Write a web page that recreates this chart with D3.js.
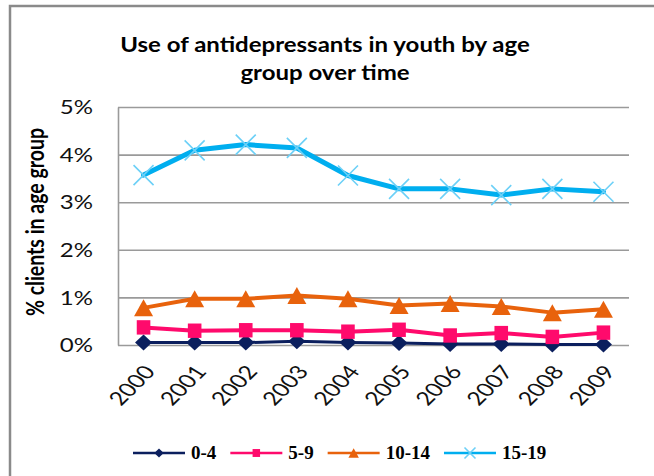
<!DOCTYPE html>
<html>
<head>
<meta charset="utf-8">
<script src="https://cdn.jsdelivr.net/npm/d3@7"></script>
<style>
  html, body { margin: 0; padding: 0; background: #fff; }
  svg { display: block; }
</style>
</head>
<body>
<svg id="chart" width="654" height="476"></svg>
<script>
// ---- data -------------------------------------------------------------
const years = ["2000", "2001", "2002", "2003", "2004", "2005", "2006", "2007", "2008", "2009"];
const ageGroups = ["0-4", "5-9", "10-14", "15-19"];
// percent of clients in each age group using antidepressants
const use0to4   = [0.05, 0.05, 0.05, 0.08, 0.05, 0.04, 0.02, 0.02, 0.01, 0.01];
const use5to9   = [0.37, 0.30, 0.31, 0.31, 0.28, 0.32, 0.20, 0.25, 0.17, 0.26];
const use10to14 = [0.78, 0.97, 0.97, 1.04, 0.97, 0.83, 0.87, 0.81, 0.68, 0.75];
const use15to19 = [3.57, 4.09, 4.21, 4.14, 3.56, 3.28, 3.28, 3.15, 3.28, 3.22];
const yTicks = [0, 1, 2, 3, 4, 5];
const titleLines = ["Use of antidepressants in youth by age", "group over time"];
const yAxisTitle = "% clients in age group";

// ---- layout -----------------------------------------------------------
const plot = { left: 118, right: 629, top: 107, bottom: 345 };
const SX = 1.3;                       // horizontal text stretch
const sansFont = "Lato, 'Open Sans', sans-serif";
const serifFont = "'Liberation Serif', 'DejaVu Serif', serif";

const series = [
  { name: ageGroups[0], values: use0to4,   color: "#0b1f5e", width: 3, marker: "diamond" },
  { name: ageGroups[1], values: use5to9,   color: "#ff0a6c", width: 4, marker: "square" },
  { name: ageGroups[2], values: use10to14, color: "#e8620c", width: 4, marker: "triangle" },
  { name: ageGroups[3], values: use15to19, color: "#00aeef", width: 5, marker: "cross", markerColor: "#6cd0f7" }
];

const svg = d3.select("#chart");

// outer chart frame
svg.append("rect")
  .attr("x", 10).attr("y", 6).attr("width", 700).attr("height", 500)
  .attr("fill", "#fff").attr("stroke", "#8a8a8a").attr("stroke-width", 2.5);

const x = d3.scaleBand().domain(years).range([plot.left, plot.right]);
const y = d3.scaleLinear().domain([0, 5]).range([plot.bottom, plot.top]);
const cx = d => x(d) + x.bandwidth() / 2;

// ---- title ------------------------------------------------------------
const titleG = svg.append("g");
titleLines.forEach((line, i) => {
  titleG.append("text")
    .attr("transform", `translate(325,${52 + i * 28}) scale(1.2,1)`)
    .attr("text-anchor", "middle")
    .attr("font-family", sansFont)
    .attr("font-weight", "bold")
    .attr("font-size", 20)
    .attr("fill", "#000")
    .text(line);
});

// ---- y axis with gridlines ----------------------------------------------
const yAxis = svg.append("g")
  .attr("transform", `translate(${plot.left},0)`)
  .call(d3.axisLeft(y)
    .tickValues(yTicks)
    .tickFormat(d => d + "%")
    .tickSize(-(plot.right - plot.left))
    .tickSizeOuter(0));
yAxis.select(".domain").attr("stroke", "#9a9a9a").attr("stroke-width", 1.6);
yAxis.selectAll(".tick line").attr("stroke", "#9a9a9a").attr("stroke-width", 1.6);
yAxis.selectAll(".tick text")
  .attr("x", -25 / SX)
  .attr("dy", "0.36em")
  .attr("transform", `scale(${SX},1)`)
  .attr("font-family", sansFont)
  .attr("font-size", 18.5)
  .attr("fill", "#111");

// y axis title
svg.append("text")
  .attr("transform", `translate(35,222) scale(${SX},1) rotate(-90)`)
  .attr("text-anchor", "middle")
  .attr("dy", "0.35em")
  .attr("font-family", sansFont)
  .attr("font-weight", "bold")
  .attr("font-size", 19.5)
  .attr("fill", "#000")
  .text(yAxisTitle);

// ---- x axis -------------------------------------------------------------
const xAxis = svg.append("g")
  .attr("transform", `translate(0,${plot.bottom})`)
  .call(d3.axisBottom(x).tickSize(0).tickSizeOuter(0));
xAxis.select(".domain").remove();
xAxis.selectAll(".tick text")
  .attr("x", 0).attr("y", 0).attr("dy", "0.35em")
  .attr("text-anchor", "end")
  .attr("transform", `translate(6,23) scale(${SX},1) rotate(-52)`)
  .attr("font-family", sansFont)
  .attr("font-size", 19)
  .attr("fill", "#111");

// ---- markers ----------------------------------------------------------
function markerPath(type, s) {
  // s = scale factor, 1 for plot markers
  const p = d3.path();
  if (type === "diamond") {
    const hw = 8.5 * s, hh = 8 * s;
    p.moveTo(0, -hh); p.lineTo(hw, 0); p.lineTo(0, hh); p.lineTo(-hw, 0); p.closePath();
  } else if (type === "square") {
    const hw = 6.8 * s, hh = 7.2 * s;
    p.rect(-hw, -hh, 2 * hw, 2 * hh);
  } else if (type === "triangle") {
    const hw = 9.5 * s, hh = 8.5 * s;
    p.moveTo(0, -hh); p.lineTo(hw, hh); p.lineTo(-hw, hh); p.closePath();
  } else if (type === "cross") {
    const hw = 10 * s, hh = 10 * s;
    p.moveTo(-hw, -hh); p.lineTo(hw, hh);
    p.moveTo(hw, -hh); p.lineTo(-hw, hh);
  }
  return p.toString();
}

function drawMarker(g, s, type, color) {
  if (type === "cross") {
    g.append("path").attr("d", markerPath(type, s))
      .attr("fill", "none").attr("stroke", color).attr("stroke-width", 1.6);
  } else {
    g.append("path").attr("d", markerPath(type, s)).attr("fill", color);
  }
}

// ---- series lines -------------------------------------------------------
const line = d3.line()
  .x((d, i) => cx(years[i]))
  .y(d => y(d));

const seriesG = svg.append("g");
series.forEach(s => {
  const g = seriesG.append("g");
  g.append("path")
    .datum(s.values)
    .attr("d", line)
    .attr("fill", "none")
    .attr("stroke", s.color)
    .attr("stroke-width", s.width)
    .attr("stroke-linejoin", "round")
    .attr("stroke-linecap", "round");
  s.values.forEach((v, i) => {
    const mg = g.append("g").attr("transform", `translate(${cx(years[i])},${y(v)})`);
    drawMarker(mg, 1, s.marker, s.markerColor || s.color);
  });
});

// ---- legend -------------------------------------------------------------
const legend = svg.append("g").attr("transform", "translate(133,453)");
let lx = 0;
series.forEach(s => {
  const item = legend.append("g").attr("transform", `translate(${lx},0)`);
  item.append("line")
    .attr("x1", 0).attr("x2", 52).attr("y1", 0).attr("y2", 0)
    .attr("stroke", s.color).attr("stroke-width", 2.5);
  const mg = item.append("g").attr("transform", "translate(26,0)");
  drawMarker(mg, 0.55, s.marker, s.markerColor || s.color);
  const t = item.append("text")
    .attr("x", 58).attr("dy", "0.34em")
    .attr("font-family", serifFont)
    .attr("font-weight", "bold")
    .attr("font-size", 19)
    .attr("fill", "#000")
    .text(s.name);
  lx += 58 + t.node().getComputedTextLength() + 14;
});
</script>
</body>
</html>
